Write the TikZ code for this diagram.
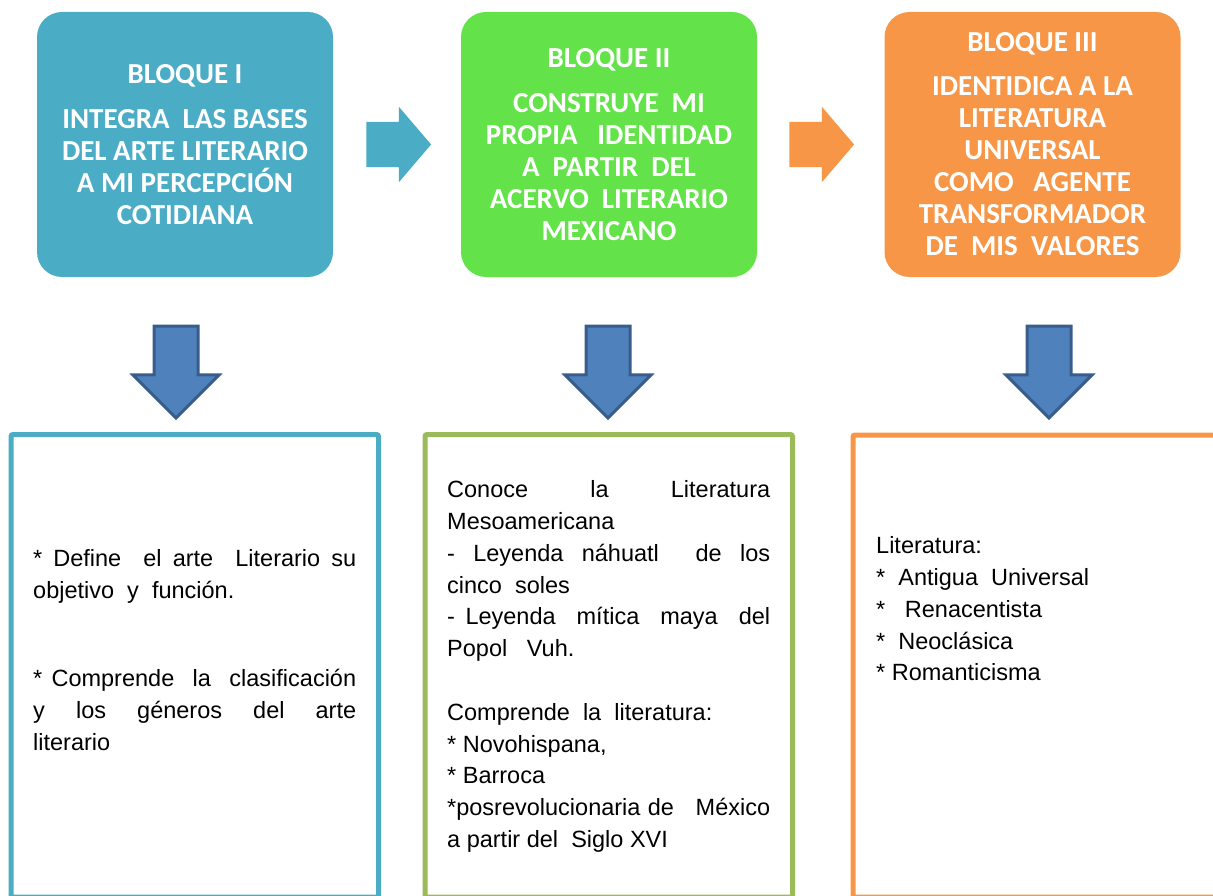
\documentclass[tikz,border=0pt]{standalone}
\usepackage{fontspec}
\setmainfont{Liberation Sans}
\newfontfamily\headfont{Carlito}
\usetikzlibrary{shapes.arrows}
\definecolor{bloqueazul}{HTML}{4BACC6}
\definecolor{bloqueverde}{HTML}{63E24A}
\definecolor{bloquenaranja}{HTML}{F79646}
\definecolor{marcoverde}{HTML}{9BBB59}
\definecolor{flechaazul}{HTML}{4F81BD}
\definecolor{bordeazul}{HTML}{385D8A}
\newcommand{\jline}[1]{\makebox[323pt][s]{#1}}

\begin{document}
\begin{tikzpicture}[x=1pt,y=-1pt,
  bloque/.style={rounded corners=25pt, minimum width=296pt, minimum height=265pt,
    inner sep=0pt, text=white, align=center,
    font=\headfont\bfseries\fontsize{29}{32}\selectfont},
  paso/.style={single arrow, minimum height=64pt, inner sep=22.5pt,
    single arrow head extend=15pt, single arrow tip angle=99},
  baja/.style={single arrow, shape border rotate=270, fill=flechaazul,
    draw=bordeazul, line width=3pt, minimum height=92pt, inner sep=20.5pt,
    single arrow head extend=21pt},
  marco/.style={line width=5pt, rounded corners=2pt},
  lista/.style={anchor=north west, inner sep=0pt, align=left,
    font=\fontsize{23.5}{31.8}\selectfont}]
\useasboundingbox (0,0) rectangle (1213,896);
\clip (0,0) rectangle (1213,896);

% bloques de arriba
\node[bloque, fill=bloqueazul] (bloque1) at (185,144.5)
  {BLOQUE I\\[13pt]INTEGRA\ \ LAS BASES\\DEL ARTE LITERARIO\\A MI PERCEPCIÓN\\COTIDIANA};
\node[bloque, fill=bloqueverde] (bloque2) at (609,144.5)
  {BLOQUE II\\[13pt]CONSTRUYE\ \ MI\\PROPIA\ \ \ IDENTIDAD\\A\ \ PARTIR\ \ DEL\\ACERVO\ \ LITERARIO\\MEXICANO};
\node[bloque, fill=bloquenaranja] (bloque3) at (1032.5,144.5)
  {BLOQUE III\\[12pt]IDENTIDICA A LA\\LITERATURA\\UNIVERSAL\\COMO\ \ \ AGENTE\\TRANSFORMADOR\\DE\ \ MIS\ \ VALORES};

% flechas entre bloques
\node[paso, fill=bloqueazul] (paso12) at (389,144.5) {};
\node[paso, fill=bloquenaranja] (paso23) at (812,144.5) {};

% flechas hacia abajo
\node[baja] (baja1) at (176,361) {};
\node[baja] (baja2) at (608,361) {};
\node[baja] (baja3) at (1049,361) {};

% marcos de abajo
\draw[marco, bloqueazul] (11,434.5) rectangle (378.5,897);
\draw[marco, marcoverde] (425,434.5) rectangle (792.5,897);
\draw[marco, bloquenaranja] (853,435) rectangle (1220.5,897);

\node[lista] (texto1) at (33,549)
  {\jline{* Define\ \ el arte\ \ Literario su}\\
   objetivo\ \ y\ \ función.\\[57pt]
   \jline{* Comprende\ \ la\ \ clasificación}\\
   \jline{y\ \ los\ \ géneros\ \ del\ \ arte}\\
   literario};
\node[lista] (texto2) at (447,480.5)
  {\jline{Conoce la Literatura}\\
   Mesoamericana\\
   \jline{- Leyenda náhuatl\ \ de los}\\
   cinco\ \ soles\\
   \jline{- Leyenda\ \ mítica\ \ maya\ \ del}\\
   Popol\ \ \ Vuh.\\[31.8pt]
   Comprende\ \ la\ \ literatura:\\
   * Novohispana,\\
   * Barroca\\
   \jline{*posrevolucionaria de\ \ \ México}\\
   a partir del\ \ Siglo XVI};
\node[lista] (texto3) at (876,536.5)
  {Literatura:\\
   *\ \ Antigua\ \ Universal\\
   *\ \ \ Renacentista\\
   *\ \ Neoclásica\\
   * Romanticisma};
\end{tikzpicture}
\end{document}
